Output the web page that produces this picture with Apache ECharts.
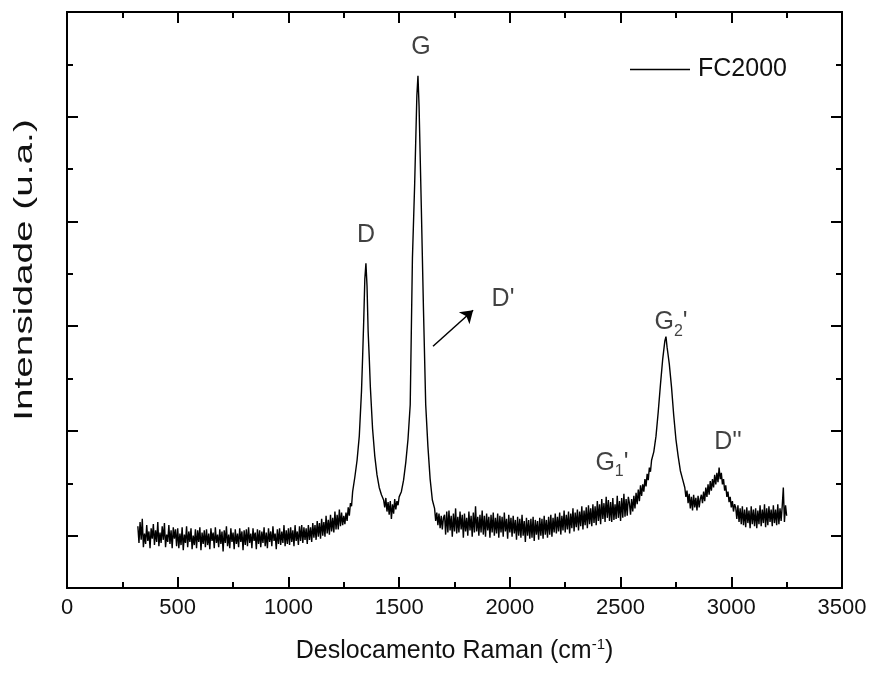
<!DOCTYPE html>
<html><head><meta charset="utf-8">
<script src="https://cdn.jsdelivr.net/npm/echarts@6/dist/echarts.min.js"></script>
<style>html,body{margin:0;padding:0;background:#fff}#c{width:871px;height:674px}</style>
</head><body><div id="c"></div>
<script>
// Raman shift (cm^-1), intensity (a.u.), by region
const baselineLow = [
[320,90],[325,-70],[330,130],[335,-40],[340,160],[345,-110],[350,20],[355,-80],[360,100],[365,-50],
[370,40],[375,-120],[380,70],[385,-30],[390,110],[395,-90],[400,50],[405,-60],[410,130],[415,-100],
[420,30],[425,-70],[430,90],[435,-40],[440,120],[445,-110],[450,10],[455,-60],[460,100],[465,-80],
[470,50],[475,-120],[480,80],[485,-30],[490,60],[495,-100],
[500,70],[505,-120],[510,20],[515,-90],[520,80],[525,-140],[530,10],[535,-70],[540,90],[545,-110],
[550,40],[555,-60],[560,70],[565,-130],[570,0],[575,-90],[580,60],[585,-120],[590,50],[595,-60],
[600,80],[605,-140],[610,30],[615,-80],[620,50],[625,-110],[630,60],[635,-90],[640,20],[645,-130],
[650,70],[655,-50],[660,30],[665,-120],[670,80],[675,-70],[680,10],[685,-110],[690,60],[695,-80],
[700,40],[705,-150],[710,50],[715,-70],[720,90],[725,-100],[730,10],[735,-120],[740,70],[745,-60],
[750,30],[755,-130],[760,60],[765,-80],[770,20],[775,-110],[780,70],[785,-60],[790,40],[795,-140],
[800,50],[805,-90],[810,60],[815,-100],[820,80],[825,-70],[830,20],[835,-120],[840,70],[845,-50],
[850,30],[855,-130],[860,60],[865,-80],[870,50],[875,-110],[880,40],[885,-70],[890,80],[895,-100],
[900,30],[905,-120],[910,70],[915,-60],[920,40],[925,-100],[930,90],[935,-50],[940,20],[945,-130],
[950,60],[955,-80],[960,70],[965,-90],[970,40],[975,-70],[980,100],[985,-100],[990,50],[995,-80],
[1000,70],[1005,-90],[1010,80],[1015,-60],[1020,50],[1025,-100],[1030,100],[1035,-50],[1040,40],[1045,-90],
[1050,90],[1055,-50],[1060,100],[1065,-70],[1070,80],[1075,-40],[1080,70],[1085,-80],[1090,100],[1095,-40],
[1100,80],[1105,-60],[1110,120],[1115,-20],[1120,100],[1125,-40],[1130,140],[1135,-10],[1140,120],[1145,-30],
[1150,160],[1155,0],[1160,130],[1165,-10],[1170,190],[1175,20],[1180,150],[1185,10],[1190,200],[1195,40],
[1200,170],[1205,30],[1210,230],[1215,60],[1220,200],[1225,60],[1230,250],[1235,90],[1240,220],[1245,100]
];
const peakD = [
[1250,190],[1255,110],[1260,220],[1265,140],[1270,270],[1275,190],[1280,310],[1285,280],[1290,420],
[1300,560],[1310,720],[1320,950],[1330,1380],[1335,1700],[1340,2050],[1345,2450],[1350,2600],[1355,2380],
[1360,1950],[1365,1700],[1370,1420],[1380,1020],[1390,760],[1400,580],[1410,460],[1420,390],
[1430,340],[1435,270],[1440,360],[1445,230],[1450,320],[1455,200],[1460,330],[1465,160],[1470,300],
[1475,210],[1480,350],[1485,250],[1490,330],[1495,290],[1500,370]
];
const peakG = [
[1510,420],[1520,530],[1530,700],[1540,920],[1550,1250],[1560,2650],[1570,3350],[1580,4200],[1585,4390],
[1590,4100],[1600,3150],[1610,2150],[1620,1250],[1630,850],[1640,540],[1650,340],[1660,260],[1665,140],
[1670,220],[1675,100],[1680,210],[1685,70],[1690,190],[1695,60],[1700,170]
];
const baselineMid = [
[1705,200],[1710,10],[1715,230],[1720,30],[1725,240],[1730,50],[1735,190],[1740,-10],[1745,210],[1750,40],
[1755,260],[1760,20],[1765,180],[1770,30],[1775,230],[1780,60],[1785,200],[1790,-20],[1795,210],[1800,40],
[1805,170],[1810,0],[1815,230],[1820,50],[1825,190],[1830,-10],[1835,220],[1840,30],[1845,280],[1850,40],
[1855,180],[1860,0],[1865,200],[1870,30],[1875,240],[1880,10],[1885,190],[1890,-10],[1895,210],[1900,50],
[1905,180],[1910,-20],[1915,200],[1920,30],[1925,220],[1930,0],[1935,170],[1940,20],[1945,210],[1950,-20],
[1955,190],[1960,30],[1965,180],[1970,-10],[1975,220],[1980,40],[1985,160],[1990,-30],[1995,200],[2000,30],
[2005,170],[2010,-10],[2015,190],[2020,20],[2025,150],[2030,-40],[2035,180],[2040,0],[2045,160],[2050,-20],
[2055,200],[2060,0],[2065,140],[2070,-60],[2075,170],[2080,0],[2085,150],[2090,-30],[2095,160],[2100,-20],
[2105,180],[2110,-50],[2115,150],[2120,10],[2125,140],[2130,-40],[2135,170],[2140,0],[2145,160],[2150,-30],
[2155,190],[2160,10],[2165,150],[2170,-20],[2175,180],[2180,10],[2185,200],[2190,-10],[2195,170],[2200,30],
[2205,210],[2210,20],[2215,180],[2220,40],[2225,220],[2230,10],[2235,190],[2240,50],[2245,240],[2250,30],
[2255,200],[2260,60],[2265,230],[2270,20],[2275,210],[2280,70],[2285,260],[2290,40],[2295,220],[2300,80],
[2305,250],[2310,50],[2315,230],[2320,90],[2325,280],[2330,60],[2335,240],[2340,100],[2345,270],[2350,70],
[2355,290],[2360,110],[2365,260],[2370,90],[2375,300],[2380,120],[2385,280],[2390,100],[2395,330],[2400,140],
[2405,300],[2410,110],[2415,350],[2420,160],[2425,310],[2430,130],[2435,370],[2440,170],[2445,340],[2450,140],
[2455,320],[2460,130],[2465,360],[2470,150],[2475,300],[2480,160],[2485,380],[2490,170],[2495,330],[2500,140],
[2505,360],[2510,170],[2515,400],[2520,180],[2525,350],[2530,190],[2535,370]
];
const peakG2 = [
[2540,310],[2545,200],[2550,350],[2555,230],[2560,380],[2565,260],[2570,410],[2575,300],[2580,440],[2585,330],
[2590,480],[2595,380],[2600,490],[2605,420],[2610,540],[2615,470],[2620,590],[2625,530],[2630,650],[2635,610],
[2640,720],[2645,720],[2650,800],[2660,950],[2670,1180],[2680,1440],[2690,1680],[2700,1860],[2705,1900],
[2710,1800],[2715,1720],[2720,1640],[2730,1420],[2740,1150],[2750,920],[2760,760],[2770,620],[2780,540],
[2790,460],[2795,370],[2800,430],[2805,310],[2810,400],[2815,260],[2820,370],[2825,240],[2830,390],[2835,270],
[2840,360],[2845,240],[2850,380],[2855,270],[2860,350]
];
const tailD2 = [
[2865,390],[2870,310],[2875,420],[2880,330],[2885,460],[2890,370],[2895,490],[2900,390],[2905,520],[2910,430],
[2915,540],[2920,460],[2925,580],[2930,490],[2935,600],[2940,510],[2945,650],[2950,540],[2955,600],[2960,490],
[2965,540],[2970,430],[2975,480],[2980,370],[2985,420],[2990,320],[2995,370],[3000,270],[3005,330],[3010,230],
[3015,300],[3020,270],[3025,160],[3030,290],[3035,130],[3040,260],[3045,110],[3050,280],[3055,100],[3060,250],
[3065,80],[3070,270],[3075,120],[3080,240],[3085,70],[3090,280],[3095,110],[3100,250],[3105,90],[3110,260],
[3115,70],[3120,240],[3125,110],[3130,290],[3135,90],[3140,250],[3145,120],[3150,300],[3155,80],[3160,260],
[3165,100],[3170,280],[3175,130],[3180,250],[3185,90],[3190,290],[3195,120],[3200,250],[3205,100],[3210,300],
[3215,110],[3220,260],[3225,140],[3230,280],[3235,460],[3240,130],[3245,290],[3250,190]
];
const spectrum = [].concat(baselineLow, peakD, peakG, baselineMid, peakG2, tailD2);

// Peak annotations (data coordinates)
const labelText = ['G', 'D', "D'", "{b|G}{s|2}{b|'}", "{b|G}{s|1}{b|'}", "D''"];
const labelX = [1599, 1350, 1969, 2728, 2461, 2985];
const labelY = [4665, 2866, 2256, 2037, 695, 895];
const arrowFrom = [1653, 1809];
const arrowTo = [1834, 2152];

const seriesName = 'FC2000';
const xTitle = 'Deslocamento Raman (cm{sup|-1})';
const yTitle = 'Intensidade (u.a.)';

const FONT = '"Liberation Sans", Arial, sans-serif';
const TXT = '#111';
const chart = echarts.init(document.getElementById('c'), null, {renderer: 'canvas'});

function yAxisPair(pos) {
  return [
    { type: 'value', position: pos, min: -500, max: 5000, interval: 500,
      axisLine: { show: true, lineStyle: { color: '#000', width: 2 } },
      axisTick: { show: true, inside: true, length: 6, lineStyle: { color: '#000', width: 2 } },
      axisLabel: { show: false }, splitLine: { show: false } },
    { type: 'value', position: pos, inverse: true, min: 0, max: 5.5, interval: 1,
      axisLine: { show: true, lineStyle: { color: '#000', width: 2 } },
      axisTick: { show: true, inside: true, length: 11, lineStyle: { color: '#000', width: 2 } },
      axisLabel: { show: false }, splitLine: { show: false } }
  ];
}
function xAxisDef(pos, labels) {
  return { type: 'value', position: pos, min: 0, max: 3500, interval: 500,
    axisLine: { show: true, onZero: false, lineStyle: { color: '#000', width: 2 } },
    axisTick: { show: true, inside: true, length: 11, lineStyle: { color: '#000', width: 2 } },
    minorTick: { show: true, splitNumber: 2, length: 6, lineStyle: { color: '#000', width: 2 } },
    axisLabel: { show: labels, fontSize: 22, color: TXT, fontFamily: FONT, margin: 9,
      formatter: v => String(v) },
    splitLine: { show: false }, minorSplitLine: { show: false },
    name: labels ? xTitle : '', nameLocation: 'middle', nameGap: 49,
    nameTextStyle: { fontSize: 25, color: TXT, fontFamily: FONT,
      rich: { sup: { fontSize: 15, fontFamily: FONT, color: TXT, padding: [0, 0, 14, 0] } } }
  };
}

chart.setOption({
  animation: false,
  backgroundColor: '#fff',
  grid: { left: 67, right: 29, top: 12, bottom: 86, containLabel: false },
  xAxis: [xAxisDef('bottom', true), xAxisDef('top', false)],
  yAxis: [].concat(yAxisPair('left'), yAxisPair('right')),
  legend: {
    data: [{ name: seriesName, icon: 'rect' }], left: 625, top: 52, itemWidth: 60, itemHeight: 1.4,
    itemGap: 10, textStyle: { fontSize: 25, color: TXT, fontFamily: FONT, padding: [0, 0, 0, 3] },
    selectedMode: false
  },
  graphic: [{
    type: 'text', x: 25, y: 270, rotation: Math.PI / 2, scaleX: 1.55,
    style: { text: yTitle, font: '25px ' + FONT, fill: TXT,
      textAlign: 'center', textVerticalAlign: 'middle', align: 'center', verticalAlign: 'middle' }
  }],
  series: [
    { name: seriesName, type: 'line', data: spectrum, xAxisIndex: 0, yAxisIndex: 0,
      symbol: 'none', showSymbol: false, smooth: false,
      lineStyle: { color: '#000', width: 1.4 }, itemStyle: { color: '#000' },
      markLine: { silent: true, animation: false, symbol: ['none', 'arrow'], symbolSize: 12,
        lineStyle: { color: '#000', width: 1.5, type: 'solid' }, label: { show: false },
        data: [[{ coord: arrowFrom }, { coord: arrowTo }]] } },
    { name: 'labels', type: 'scatter', xAxisIndex: 0, yAxisIndex: 0, symbolSize: 0, silent: true,
      data: labelText.map((t, i) => ({ value: [labelX[i], labelY[i]], label: { formatter: t } })),
      label: { show: true, position: 'inside', fontSize: 25, color: TXT, fontFamily: FONT,
        rich: { b: { fontSize: 25, color: TXT, fontFamily: FONT },
                s: { fontSize: 16, color: TXT, fontFamily: FONT, padding: [18, 0, 0, 0] } } } }
  ]
});
</script></body></html>
